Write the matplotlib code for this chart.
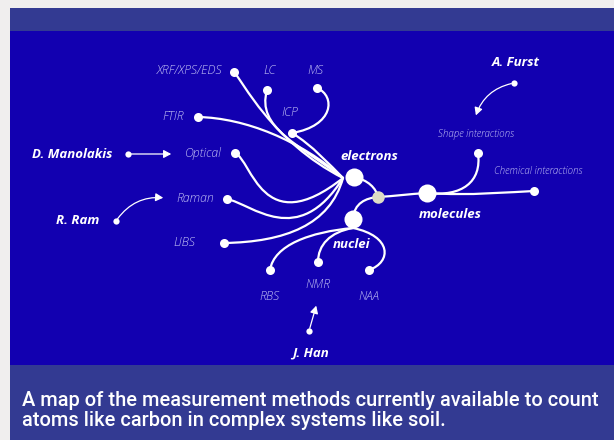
import matplotlib.pyplot as plt
from matplotlib.path import Path
from matplotlib.patches import PathPatch, Rectangle, FancyArrowPatch

# Colours
PAGE = "#f0eeee"
BAND = "#333a92"
PANEL = "#1200b0"
LABEL = "#bfbdf4"

# Nodes (pixel coordinates, y downwards)
hubs = {"electrons": (354, 177), "molecules": (427, 193), "nuclei": (353, 219)}
junction = (378, 197)
leaf_names = ["XRF/XPS/EDS", "LC", "MS", "ICP", "FTIR", "Optical", "Raman", "LIBS",
              "RBS", "NMR", "NAA", "Shape interactions", "Chemical interactions"]
leaf_xy = [(234, 72), (267, 90), (317, 88), (292, 133), (198, 117), (235, 153), (227, 199),
           (224, 243), (270, 270), (318, 262), (369, 270), (478, 153), (534, 191)]
label_xy = [(222, 71, "right"), (270, 71, "center"), (315, 71, "center"), (290, 113, "center"),
            (184, 117, "right"), (222, 153, "right"), (214, 199, "right"), (195, 243, "right"),
            (270, 296, "center"), (318, 285, "center"), (369, 296, "center"),
            (476, 134, "center"), (538, 172, "center")]

# Bezier edges: start, ctrl1, ctrl2, end
edges = [
    [(234, 72), (242, 80), (272, 142), (343, 178)],
    [(267, 90), (256, 128), (300, 145), (343, 178)],
    [(317, 88), (336, 96), (334, 126), (292, 133)],
    [(292, 133), (312, 145), (330, 165), (343, 178)],
    [(198, 117), (245, 118), (300, 140), (343, 178)],
    [(235, 153), (252, 160), (262, 242), (343, 178)],
    [(227, 199), (252, 204), (298, 250), (343, 178)],
    [(224, 243), (285, 242), (330, 225), (343, 178)],
    [(353, 228), (310, 232), (274, 245), (270, 270)],
    [(353, 228), (330, 232), (318, 245), (318, 262)],
    [(353, 228), (392, 236), (392, 262), (369, 270)],
    [(354, 177), (368, 180), (376, 188), (378, 197)],
    [(353, 219), (354, 203), (366, 198), (378, 197)],
    [(378, 197), (395, 196), (410, 194), (427, 193)],
    [(427, 193), (462, 197), (482, 182), (478, 153)],
    [(427, 193), (470, 196), (510, 192), (534, 191)],
]

hub_labels = [("electrons", 369, 157), ("molecules", 450, 214), ("nuclei", 352, 245)]
people = [("A. Furst", 516, 63), ("D. Manolakis", 72, 155), ("R. Ram", 78, 221), ("J. Han", 310, 353)]
pointers = [((514, 83), (475, 118), 0.3), ((128, 154), (174, 154), 0.0),
            ((116, 221), (166, 198), -0.3), ((309, 331), (317, 303), 0.0)]

caption = ["A map of the measurement methods currently available to count",
           "atoms like carbon in complex systems like soil."]

fig = plt.figure(figsize=(6.14, 4.40), dpi=100)
ax = fig.add_axes([0, 0, 1, 1])
ax.set_xlim(0, 614)
ax.set_ylim(440, 0)
ax.axis("off")
fig.patch.set_facecolor(PAGE)

ax.add_patch(Rectangle((10, 8), 604, 23, color=BAND, lw=0))
ax.add_patch(Rectangle((10, 31), 604, 334, color=PANEL, lw=0))
ax.add_patch(Rectangle((10, 365), 604, 75, color=BAND, lw=0))

codes = [Path.MOVETO, Path.CURVE4, Path.CURVE4, Path.CURVE4]
for e in edges:
    ax.add_patch(PathPatch(Path(e, codes), fc="none", ec="white", lw=1.6, capstyle="round"))

for x, y in leaf_xy:
    ax.plot(x, y, "o", color="white", ms=6.5, mec="none", zorder=3)
for x, y in hubs.values():
    ax.plot(x, y, "o", color="white", ms=13, mec="none", zorder=3)
ax.plot(*junction, "o", color="#dedcc6", ms=9, mec="none", zorder=3)

for name, (x, y, ha) in zip(leaf_names, label_xy):
    small = "interactions" in name
    ax.text(x, y, name, color=LABEL, fontsize=7 if small else 8.8, style="italic",
            fontweight="light", ha=ha, va="center", family="Open Sans")

for name, x, y in hub_labels + people:
    ax.text(x, y, name, color="white", fontsize=9.5, style="italic", fontweight="bold",
            ha="center", va="center", family="Open Sans")

for start, end, rad in pointers:
    ax.plot(*start, "o", color="white", ms=4.5, mec="none")
    ax.add_patch(FancyArrowPatch(start, end, connectionstyle=f"arc3,rad={rad}",
                                 arrowstyle="-|>,head_length=3,head_width=1.6",
                                 color="white", lw=0.9, mutation_scale=1.5))

for i, line in enumerate(caption):
    ax.text(22, 401 + 20 * i, line, color="white", fontsize=14.4, fontweight="medium",
            ha="left", va="center", family="Roboto")

fig.savefig("out.png", dpi=100, facecolor=PAGE)
